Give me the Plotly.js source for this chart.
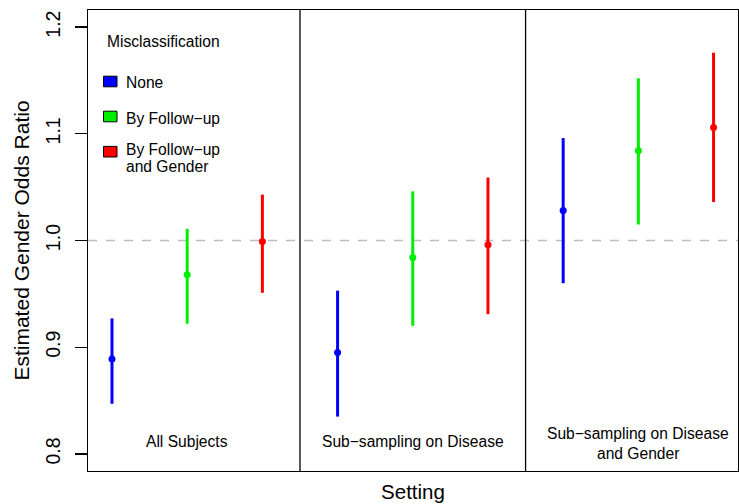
<!DOCTYPE html>
<html>
<head>
<meta charset="utf-8">
<script src="https://cdn.plot.ly/plotly-3.0.1.min.js"></script>
<style>html,body{margin:0;padding:0;background:#fff;}#chart{width:739px;height:504px;}</style>
</head>
<body>
<div id="chart"></div>
<script>
// Data
var settings = ["All Subjects", "Sub\u2212sampling on Disease", "Sub\u2212sampling on Disease<br>and Gender"];
var seriesNames = ["None", "By Follow\u2212up", "By Follow\u2212up<br>and Gender"];
var seriesColors = ["#0000FF", "#00EE00", "#FF0000"];
// estimates, lower and upper limits per series (one value per setting)
var estNone = [0.889, 0.895, 1.028];
var lowNone = [0.847, 0.835, 0.960];
var highNone = [0.927, 0.953, 1.096];
var estFollow = [0.968, 0.984, 1.084];
var lowFollow = [0.922, 0.920, 1.015];
var highFollow = [1.011, 1.046, 1.152];
var estFollowGender = [0.999, 0.996, 1.106];
var lowFollowGender = [0.951, 0.931, 1.036];
var highFollowGender = [1.043, 1.059, 1.176];
var yTicks = [0.8, 0.9, 1.0, 1.1, 1.2];
var yTickText = ["0.8", "0.9", "1.0", "1.1", "1.2"];

var ests = [estNone, estFollow, estFollowGender];
var lows = [lowNone, lowFollow, lowFollowGender];
var highs = [highNone, highFollow, highFollowGender];

var FONT = "'Liberation Sans', Arial, Helvetica, sans-serif";
var SMALL = 15.6;

var traces = [];
for (var s = 0; s < 3; s++) {
  var xs = [], plus = [], minus = [];
  for (var g = 0; g < settings.length; g++) {
    xs.push(g * 3 + s + 1);
    plus.push(highs[s][g] - ests[s][g]);
    minus.push(ests[s][g] - lows[s][g]);
  }
  traces.push({
    type: "scatter", mode: "markers", x: xs, y: ests[s], name: seriesNames[s],
    marker: {color: seriesColors[s], size: 7},
    error_y: {type: "data", symmetric: false, array: plus, arrayminus: minus,
              color: seriesColors[s], thickness: 3, width: 0},
    showlegend: false, hoverinfo: "skip"
  });
}

// layout helpers: plot area in pixels
var L = 88, T = 10, W = 650, H = 461;
function px(x) { return (x - L) / W; }
function py(y) { return (T + H - y) / H; }

var shapes = [
  {type: "line", xref: "paper", yref: "y", x0: 0, x1: 1, y0: 1, y1: 1,
   line: {color: "#BEBEBE", width: 1.3, dash: "dash"}, layer: "below"},
  {type: "line", xref: "x", yref: "paper", x0: 3.5, x1: 3.5, y0: 0, y1: 1,
   line: {color: "#000", width: 1.3}},
  {type: "line", xref: "x", yref: "paper", x0: 6.5, x1: 6.5, y0: 0, y1: 1,
   line: {color: "#000", width: 1.3}}
];
var annotations = [];
// panel labels
var labelY = [[441.5], [441.5], [433, 453]];
for (var g = 0; g < settings.length; g++) {
  var lines = settings[g].split("<br>");
  for (var k = 0; k < lines.length; k++) {
    annotations.push({xref: "x", yref: "paper", x: g * 3 + 2, y: py(labelY[g][k]),
      text: lines[k], showarrow: false, xanchor: "center", yanchor: "middle",
      font: {family: FONT, size: SMALL, color: "#000"}});
  }
}
// legend
annotations.push({xref: "paper", yref: "paper", x: px(104.5), y: py(42), text: "Misclassification",
  showarrow: false, xanchor: "left", yanchor: "middle", font: {family: FONT, size: SMALL, color: "#000"}});
var boxY = [81.5, 116.5, 151.7];
var textY = [82.7, 118.3, 149.3];
for (var s = 0; s < 3; s++) {
  shapes.push({type: "rect", xref: "paper", yref: "paper", x0: px(103.5), x1: px(117), y0: py(boxY[s] - 5.3), y1: py(boxY[s] + 5.3),
    fillcolor: seriesColors[s], line: {color: "#000", width: 1}});
  var parts = seriesNames[s].split("<br>");
  for (var k = 0; k < parts.length; k++) {
    annotations.push({xref: "paper", yref: "paper", x: px(124), y: py(textY[s] + k * 17.4), text: parts[k],
      showarrow: false, xanchor: "left", yanchor: "middle", font: {family: FONT, size: SMALL, color: "#000"}});
  }
}

var layout = {
  width: 739, height: 504,
  margin: {l: L, r: 739 - L - W, t: T, b: 504 - T - H},
  paper_bgcolor: "#fff", plot_bgcolor: "#fff",
  font: {family: FONT, color: "#000"},
  showlegend: false,
  xaxis: {range: [0.681, 9.325], showticklabels: false, ticks: "", showgrid: false, zeroline: false,
          showline: true, mirror: true, linecolor: "#000", linewidth: 1.3,
          title: {text: "Setting", font: {family: FONT, size: 20.5}, standoff: 13}},
  yaxis: {range: [0.784, 1.216], tickvals: yTicks, ticktext: yTickText, ticks: "outside", ticklen: 12,
          tickwidth: 1.2, tickcolor: "#000", tickangle: -90, tickfont: {family: FONT, size: 19.5},
          ticklabelstandoff: 7,
          showgrid: false, zeroline: false, showline: true, mirror: true, linecolor: "#000", linewidth: 1.3,
          title: {text: "Estimated Gender Odds Ratio", font: {family: FONT, size: 21}, standoff: 6}},
  shapes: shapes,
  annotations: annotations
};

Plotly.newPlot("chart", traces, layout, {displayModeBar: false, staticPlot: true});
</script>
</body>
</html>
